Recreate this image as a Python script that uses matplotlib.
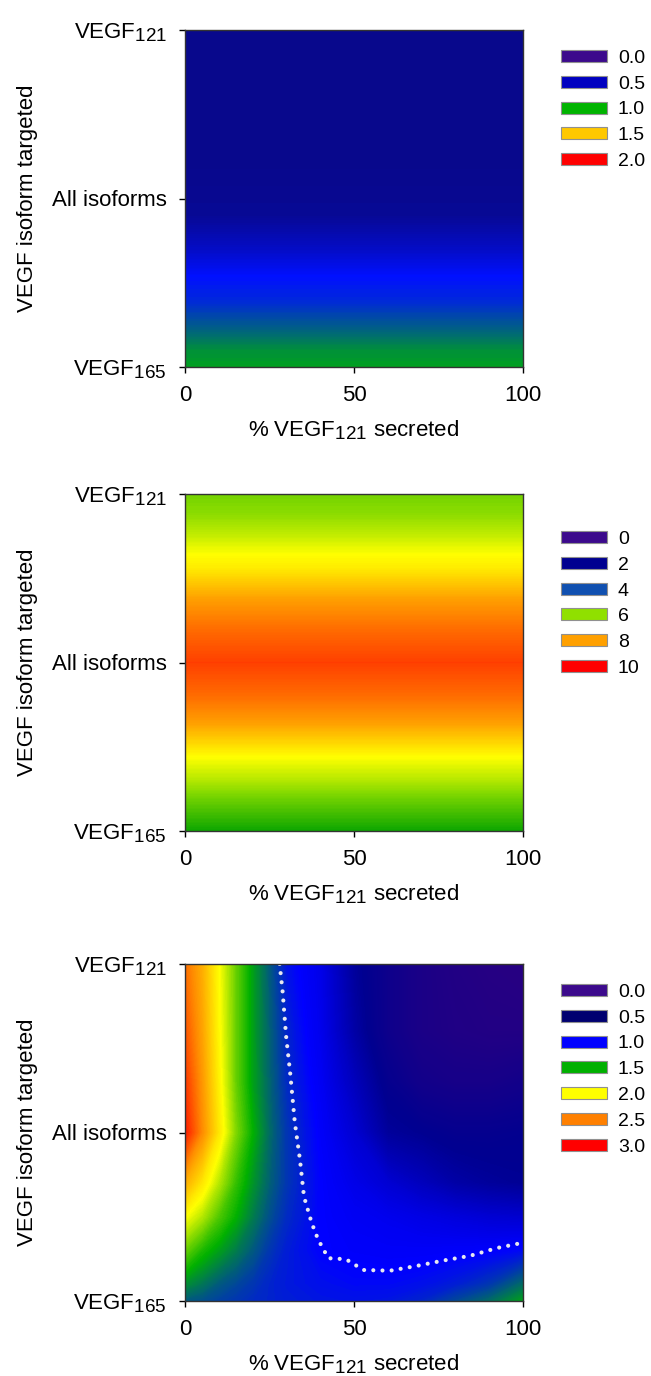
import numpy as np
import matplotlib
matplotlib.use('Agg')
import matplotlib.pyplot as plt
import matplotlib._mathtext as mathtext_internal
from matplotlib.colors import LinearSegmentedColormap
from matplotlib.patches import Patch

plt.rcParams['font.family'] = ['Liberation Sans', 'DejaVu Sans']
plt.rcParams['mathtext.fontset'] = 'custom'
plt.rcParams['mathtext.rm'] = 'Liberation Sans'
# subscripts in the original are only slightly smaller than the main text
mathtext_internal.SHRINK_FACTOR = 0.85

# y position: 0 = VEGF165 targeted, 0.5 = all isoforms, 1 = VEGF121 targeted
# x: % VEGF121 secreted

# --- panel A (varies with target only)
a_y = [0, 0.05, 0.1, 0.15, 0.2, 0.27, 0.35, 0.45, 0.6, 0.8, 1.0]
a_val = [1.0, 0.97, 0.9, 0.84, 0.78, 0.74, 0.62, 0.52, 0.5, 0.5, 0.5]
a_legend = ['0.0', '0.5', '1.0', '1.5', '2.0']
a_legend_col = ['#3c0a8c', '#0000c0', '#00b400', '#ffc800', '#ff0000']
a_stops = [(0.0, '#3c0a8c'), (0.5, '#08088c'), (0.74, '#0010ff'),
           (1.0, '#00a020'), (1.5, '#ffc800'), (2.0, '#ff0000')]

# --- panel B (varies with target only)
b_y = [0, 0.05, 0.1, 0.15, 0.22, 0.3, 0.4, 0.5, 0.6, 0.7, 0.78, 0.82, 0.88, 0.94, 1.0]
b_val = [5.1, 5.5, 5.9, 6.4, 7.0, 7.8, 8.8, 9.5, 8.8, 7.9, 7.2, 7.0, 6.5, 6.1, 5.9]
b_legend = ['0', '2', '4', '6', '8', '10']
b_legend_col = ['#3c0a8c', '#000090', '#1050b0', '#90e000', '#ffa000', '#ff0000']
b_stops = [(0, '#3c0a8c'), (2, '#000090'), (4, '#1050b0'), (5, '#00a000'),
           (6, '#80d800'), (7, '#ffff00'), (8, '#ffa000'), (9.5, '#ff4000'),
           (10, '#ff0000')]

# --- panel C (full grid)
c_x = [0, 5, 10, 15, 20, 25, 30, 40, 50, 60, 70, 80, 90, 100]
c_y = [0, 0.05, 0.15, 0.25, 0.35, 0.5, 0.65, 0.8, 1.0]
c_val = [
    [1.25, 1.22, 1.18, 1.15, 1.12, 1.10, 1.08, 1.06, 1.05, 1.06, 1.10, 1.20, 1.30, 1.45],
    [1.40, 1.33, 1.25, 1.20, 1.15, 1.10, 1.07, 1.04, 1.02, 1.02, 1.04, 1.08, 1.15, 1.30],
    [1.70, 1.55, 1.45, 1.35, 1.25, 1.15, 1.08, 1.00, 0.98, 0.97, 0.97, 0.98, 0.99, 1.02],
    [2.00, 1.85, 1.65, 1.50, 1.35, 1.22, 1.12, 1.00, 0.95, 0.92, 0.88, 0.84, 0.80, 0.78],
    [2.35, 2.10, 1.85, 1.60, 1.42, 1.27, 1.15, 1.00, 0.90, 0.80, 0.70, 0.60, 0.55, 0.52],
    [2.90, 2.50, 2.10, 1.75, 1.50, 1.30, 1.15, 0.98, 0.80, 0.55, 0.50, 0.45, 0.45, 0.47],
    [2.80, 2.45, 2.05, 1.70, 1.45, 1.28, 1.12, 0.95, 0.70, 0.45, 0.30, 0.25, 0.25, 0.30],
    [2.70, 2.40, 2.02, 1.70, 1.45, 1.27, 1.10, 0.92, 0.60, 0.35, 0.20, 0.15, 0.12, 0.12],
    [2.60, 2.35, 2.00, 1.70, 1.45, 1.25, 1.05, 0.90, 0.55, 0.35, 0.20, 0.12, 0.08, 0.05],
]
c_legend = ['0.0', '0.5', '1.0', '1.5', '2.0', '2.5', '3.0']
c_legend_col = ['#3c0a8c', '#000070', '#0000ff', '#00b000', '#ffff00', '#ff8000', '#ff0000']
c_stops = [(0.0, '#2c0080'), (0.5, '#000090'), (1.0, '#0000ff'), (1.5, '#00b000'),
           (2.0, '#ffff00'), (2.5, '#ff8c00'), (3.0, '#ff0000')]

# dotted boundary in panel C
dot_x = [28.0, 28.9, 29.9, 31.1, 32.5, 34.0, 35.2, 37.5, 39.4, 42.4, 47.6, 52.8,
         60.7, 68.5, 76.4, 84.3, 92.2, 100.0]
dot_y = [1.0, 0.916, 0.787, 0.678, 0.529, 0.42, 0.31, 0.231, 0.182, 0.127, 0.124,
         0.092, 0.09, 0.104, 0.12, 0.134, 0.157, 0.173]

ytick_pos = [0, 0.5, 1]
ytick_lab = [r'VEGF$_{\mathregular{165}}$', 'All isoforms', r'VEGF$_{\mathregular{121}}$']

FS = 16


def make_cmap(stops):
    lo, hi = stops[0][0], stops[-1][0]
    return LinearSegmentedColormap.from_list(
        'c', [((v - lo) / (hi - lo), c) for v, c in stops], N=512), lo, hi


def heat(ax, x, y, z, stops):
    cmap, lo, hi = make_cmap(stops)
    ax.contourf(x, y, z, levels=np.linspace(lo, hi, 300), cmap=cmap,
                vmin=lo, vmax=hi, antialiased=False)
    ax.set_xlim(0, 100)
    ax.set_ylim(0, 1)
    ax.set_xticks([0, 50, 100])
    ax.set_yticks(ytick_pos)
    ax.set_yticklabels(ytick_lab)
    ax.tick_params(direction='out', length=4, width=1, labelsize=FS)
    ax.tick_params(axis='x', pad=9)
    ax.tick_params(axis='y', pad=9)
    for s in ax.spines.values():
        s.set_linewidth(1)
        s.set_color('#333333')
    ax.set_xlabel(r'% VEGF$_{\mathregular{121}}$ secreted', fontsize=FS)
    ax.set_ylabel('VEGF isoform targeted', fontsize=FS)
    ax.xaxis.set_label_coords(0.5, -0.152)
    ax.yaxis.set_label_coords(-0.435, 0.5)


def legend(fig, ax, labels, cols, top):
    handles = [Patch(facecolor=c, edgecolor='#909090', linewidth=0.8) for c in cols]
    ax.legend(handles, labels, loc='upper left', bbox_to_anchor=(561 / 651, 1 - top / 1376),
              bbox_transform=fig.transFigure, frameon=False, fontsize=14,
              handlelength=2.37, handleheight=0.57, handletextpad=0.56,
              labelspacing=0.45, borderpad=0, borderaxespad=0)


W, H = 651, 1376
fig = plt.figure(figsize=(W / 100, H / 100), dpi=100)
left, width, height = 185 / W, 338 / W, 337 / H

ax1 = fig.add_axes([left, 1 - 367 / H, width, height])
heat(ax1, [0, 100], a_y, np.tile(np.array(a_val)[:, None], (1, 2)), a_stops)
legend(fig, ax1, a_legend, a_legend_col, 50)

ax2 = fig.add_axes([left, 1 - 831 / H, width, height])
heat(ax2, [0, 100], b_y, np.tile(np.array(b_val)[:, None], (1, 2)), b_stops)
legend(fig, ax2, b_legend, b_legend_col, 531)

ax3 = fig.add_axes([left, 1 - 1301 / H, width, height])
heat(ax3, c_x, c_y, np.array(c_val), c_stops)
ax3.plot(dot_x, dot_y, color='#e8e8f0', linewidth=3, linestyle=(0, (0.001, 2.2)),
         dash_capstyle='round', clip_on=True)
legend(fig, ax3, c_legend, c_legend_col, 984)

fig.savefig('out.png', dpi=100)
